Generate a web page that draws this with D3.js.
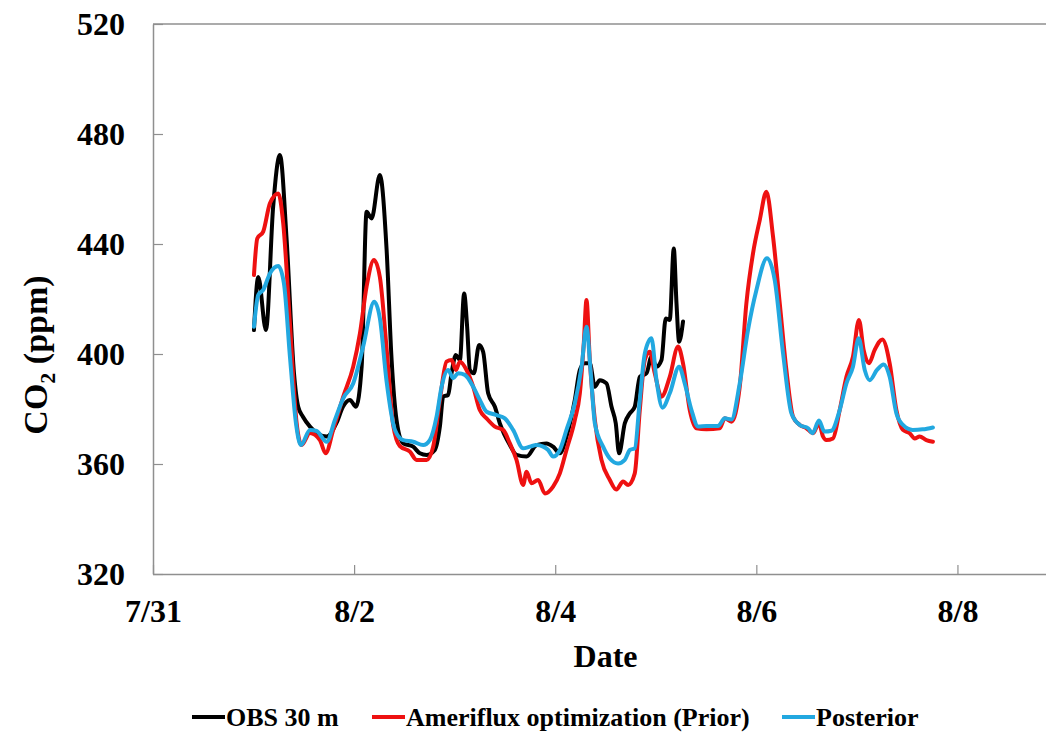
<!DOCTYPE html>
<html>
<head>
<meta charset="utf-8">
<script src="https://cdn.jsdelivr.net/npm/d3@7"></script>
<style>
  html, body { margin: 0; padding: 0; background: #fff; }
  svg { display: block; }
  text { font-family: "Liberation Serif", "Times New Roman", serif; font-weight: bold; fill: #000; }
</style>
</head>
<body>
<svg id="chart" width="1046" height="733"></svg>
<script>
// ---- Data (time in days since 7/31 00:00, CO2 in ppm) ----
const xTickValues = [0, 2, 4, 6, 8];
const xTickLabels = ["7/31", "8/2", "8/4", "8/6", "8/8"];
const yTickValues = [320, 360, 400, 440, 480, 520];
const seriesNames = ["OBS 30 m", "Ameriflux optimization (Prior)", "Posterior"];
const seriesColors = ["#000000", "#ee1111", "#22a8e0"];

const obsDay = [1.004,1.047,1.123,1.195,1.262,1.329,1.402,1.444,1.491,1.561,1.627,1.727,1.826,1.889,1.958,2.018,2.075,2.124,2.174,2.256,2.323,2.373,2.422,2.488,2.587,2.654,2.721,2.803,2.853,2.886,2.935,2.969,3.012,3.052,3.094,3.124,3.151,3.191,3.243,3.283,3.333,3.400,3.449,3.549,3.615,3.715,3.814,3.913,3.979,4.046,4.112,4.195,4.245,4.294,4.344,4.394,4.443,4.510,4.560,4.602,4.635,4.692,4.742,4.791,4.841,4.908,4.957,5.007,5.057,5.099,5.139,5.179,5.206,5.232,5.271];
const obsCO2 = [408.7,428,408.7,453.6,472.4,441.5,393,380.8,377.2,373.6,371.3,370,375,380.8,383.3,380.8,395.4,451.7,449.3,465.1,438,397.8,376,367.5,366.3,363.9,363.3,365.1,373.6,384.5,385.1,393,399.6,397.8,422,409.9,394.2,393,403.3,400.8,385.7,380.8,374.8,366.9,363.3,362.7,366.9,367.5,366.3,363.9,369.9,383.3,394.2,396.6,396.6,388.1,390.5,389.3,380.8,374.8,363.9,374.8,378.4,380.8,391.7,393,399,395.4,397.8,412.9,412.4,438.4,418.4,404.5,411.8];

const priorDay = [1.004,1.037,1.096,1.163,1.246,1.295,1.362,1.428,1.478,1.561,1.660,1.717,1.792,1.892,1.991,2.058,2.124,2.197,2.256,2.323,2.389,2.455,2.555,2.621,2.721,2.786,2.853,2.919,2.969,3.012,3.052,3.118,3.184,3.250,3.317,3.400,3.482,3.549,3.615,3.681,3.715,3.764,3.830,3.897,3.979,4.046,4.112,4.195,4.245,4.284,4.311,4.344,4.394,4.460,4.543,4.608,4.675,4.725,4.791,4.841,4.891,4.940,4.990,5.057,5.139,5.222,5.271,5.338,5.404,5.504,5.636,5.686,5.752,5.835,5.901,5.967,6.034,6.100,6.166,6.233,6.299,6.365,6.432,6.498,6.564,6.623,6.663,6.697,6.762,6.829,6.896,6.961,7.020,7.067,7.120,7.177,7.253,7.326,7.393,7.458,7.525,7.575,7.624,7.691,7.756];
const priorCO2 = [428.7,442,444.5,454.8,458.4,447.5,411,375,366.9,371.3,368.7,363.9,372.4,384.5,395.4,407.5,424.5,434.2,428,402,374,366.5,364.5,361.5,361.5,366.3,383.3,397.2,397.8,394.2,397.2,394.2,388.1,379.6,376.6,373.6,372.4,367.5,361.5,352.4,357.2,353,354.2,349.3,351.8,356.6,365.1,376,385.7,403.9,419.6,397.8,376,361.5,354.2,350.7,353.6,352.4,356.6,379.6,397.8,400.8,393,384.5,391.7,402.7,396.6,379.6,373,372.6,373,376.6,375.4,388.1,418.4,436.6,448.7,459,442.7,418.4,394.2,377.2,374.2,373,371.2,374.8,370,368.7,369.3,379.6,391.7,399,412.4,401.5,396.6,401.5,405.3,396.6,379.6,372.4,371.2,369.3,370,368.7,368.1];

const postDay = [1.004,1.047,1.096,1.163,1.246,1.302,1.362,1.421,1.471,1.561,1.627,1.727,1.809,1.892,1.991,2.090,2.200,2.256,2.323,2.406,2.488,2.587,2.687,2.753,2.820,2.870,2.935,2.985,3.035,3.101,3.184,3.250,3.317,3.416,3.499,3.581,3.681,3.748,3.814,3.880,3.930,3.979,4.046,4.112,4.195,4.262,4.311,4.351,4.394,4.476,4.543,4.625,4.692,4.742,4.791,4.841,4.891,4.957,5.007,5.067,5.139,5.232,5.288,5.355,5.421,5.504,5.619,5.686,5.752,5.835,5.917,6.001,6.106,6.183,6.266,6.349,6.432,6.515,6.559,6.623,6.677,6.747,6.829,6.896,6.961,7.018,7.078,7.127,7.200,7.266,7.326,7.393,7.458,7.555,7.654,7.756];
const postCO2 = [409.9,421.5,423.3,429.3,432,425.7,399,375,366.9,372.4,372,368.1,376,383.9,389.3,402.7,419,413,390,372.4,368.7,368.1,366.9,368.7,377.2,388.1,394.2,391.2,393,392.4,388.1,383.3,379,377.8,376.6,372.4,365.7,366.3,366.9,366.3,365.1,362.7,365.1,372.4,382.1,395.4,409.9,394.2,374.8,366.3,362,360.2,361.5,365.1,365.7,383.3,400.2,405.7,390.5,380.5,385.7,395.4,389.3,379.6,373.6,373.8,373.8,376.6,376.2,389.3,408.7,423.3,434.8,426.9,400.2,378.4,374.2,373,371.2,375.8,371.8,372.1,379.6,389.3,395.4,405.7,394.2,390.5,394.2,396.2,391.7,378.4,374.2,372.4,372.6,373.3];

// ---- Layout ----
const svg = d3.select("#chart");
const W = 1046, H = 733;
const plotLeft = 153, plotTop = 24, plotBottom = 574;
const x = d3.scaleLinear().domain([0, 9]).range([plotLeft, plotLeft + 905]);
const y = d3.scaleLinear().domain([320, 520]).range([plotBottom, plotTop]);
const axisColor = "#8f8f8f";

svg.append("defs").append("clipPath").attr("id", "clip")
  .append("rect").attr("x", plotLeft).attr("y", 0).attr("width", W - plotLeft).attr("height", plotBottom + 4);

// top border
svg.append("line").attr("x1", plotLeft).attr("x2", W).attr("y1", y(520)).attr("y2", y(520))
  .attr("stroke", axisColor).attr("stroke-width", 1.5);

// y axis
const yAxis = svg.append("g").attr("transform", `translate(${plotLeft},0)`)
  .call(d3.axisLeft(y).tickValues(yTickValues).tickFormat(d3.format("d")).tickSizeInner(-10).tickSizeOuter(0).tickPadding(28));
yAxis.select(".domain").attr("stroke", axisColor).attr("stroke-width", 1.5);
yAxis.selectAll(".tick line").attr("stroke", axisColor).attr("stroke-width", 1.2);
yAxis.selectAll(".tick text").attr("x", -28).style("font-size", "32px")
  .style("font-family", "'Liberation Serif', serif").style("font-weight", "bold").attr("fill", "#000");

// x axis
const xAxis = svg.append("g").attr("transform", `translate(0,${plotBottom})`)
  .call(d3.axisBottom(x).tickValues(xTickValues).tickFormat((d, i) => xTickLabels[i]).tickSizeInner(-9).tickSizeOuter(0));
xAxis.select(".domain").attr("d", `M${plotLeft},0.5H${W}`).attr("stroke", axisColor).attr("stroke-width", 1.5);
xAxis.selectAll(".tick line").attr("stroke", axisColor).attr("stroke-width", 1.2);
xAxis.selectAll(".tick text").attr("y", 48).attr("dy", null).style("font-size", "32px")
  .style("font-family", "'Liberation Serif', serif").style("font-weight", "bold").attr("fill", "#000");

// axis titles
svg.append("text").attr("x", x(4.5)).attr("y", 667).attr("text-anchor", "middle")
  .style("font-size", "32px").text("Date");
const yTitle = svg.append("text").attr("transform", `translate(47,355) rotate(-90)`).attr("text-anchor", "middle")
  .style("font-size", "34px");
yTitle.append("tspan").text("CO");
yTitle.append("tspan").attr("dy", 8).style("font-size", "22px").text("2");
yTitle.append("tspan").attr("dy", -8).text(" (ppm)");

// lines
const line = d3.line().x(d => x(d[0])).y(d => y(d[1])).curve(d3.curveMonotoneX);
const series = [
  d3.zip(obsDay, obsCO2),
  d3.zip(priorDay, priorCO2),
  d3.zip(postDay, postCO2)
];
const gLines = svg.append("g").attr("clip-path", "url(#clip)");
[0, 1, 2].forEach(i => {
  gLines.append("path").datum(series[i]).attr("d", line)
    .attr("fill", "none").attr("stroke", seriesColors[i]).attr("stroke-width", 4)
    .attr("stroke-linejoin", "round").attr("stroke-linecap", "round");
});

// legend
const legendX = [192, 372, 782];
const legendY = 717;
seriesNames.forEach((name, i) => {
  svg.append("line").attr("x1", legendX[i]).attr("x2", legendX[i] + 33)
    .attr("y1", legendY).attr("y2", legendY).attr("stroke", seriesColors[i]).attr("stroke-width", 4);
  svg.append("text").attr("x", legendX[i] + 34).attr("y", legendY + 9)
    .style("font-size", "26px").text(name);
});
</script>
</body>
</html>
